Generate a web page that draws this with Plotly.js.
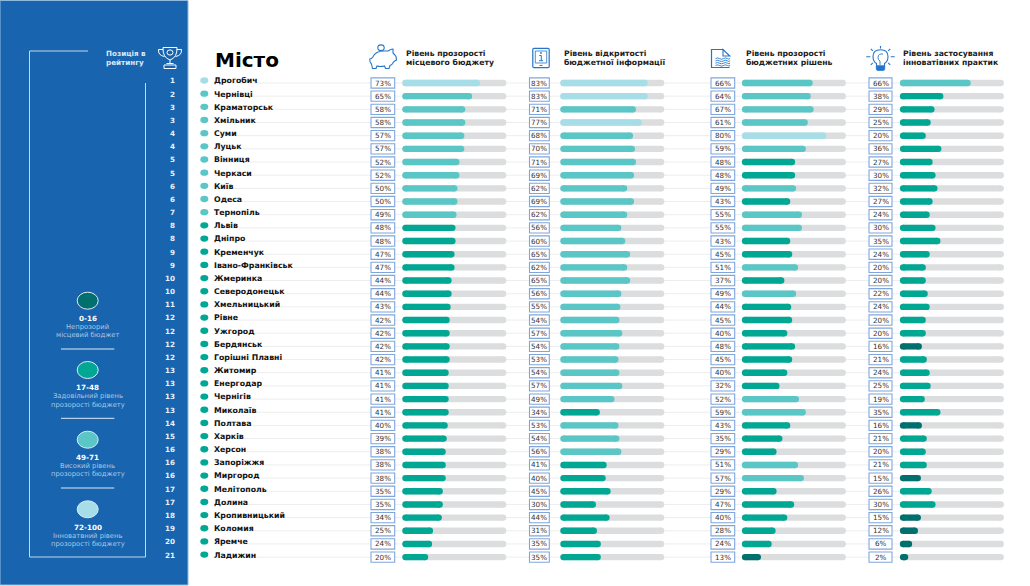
<!DOCTYPE html>
<html><head><meta charset="utf-8">
<script src="https://cdn.plot.ly/plotly-3.0.1.min.js"></script>
<style>html,body{margin:0;padding:0;background:#fff}#c{width:1030px;height:586px}</style>
</head><body><div id="c"></div>
<script>
const cities=["Дрогобич","Чернівці","Краматорськ","Хмільник","Суми","Луцьк","Вінниця","Черкаси","Київ","Одеса","Тернопіль","Львів","Дніпро","Кременчук","Івано-Франківськ","Жмеринка","Северодонецьк","Хмельницький","Рівне","Ужгород","Бердянськ","Горішні Плавні","Житомир","Енергодар","Чернігів","Миколаїв","Полтава","Харків","Херсон","Запоріжжя","Миргород","Мелітополь","Долина","Кропивницький","Коломия","Яремче","Ладижин"];
const ranks=[1,2,3,3,4,4,5,5,6,6,7,8,8,9,9,10,10,11,12,12,12,12,13,13,13,13,14,15,16,16,16,17,17,18,19,20,21];
const budget=[73,65,58,58,57,57,52,52,50,50,49,48,48,47,47,44,44,43,42,42,42,42,41,41,41,41,40,39,38,38,38,35,35,34,25,24,20];
const openness=[83,83,71,77,68,70,71,69,62,69,62,56,60,65,62,65,56,55,54,57,54,53,54,57,49,34,53,54,56,41,40,45,30,44,31,35,35];
const decisions=[66,64,67,61,80,59,48,48,49,43,55,55,43,45,51,37,49,44,45,40,48,45,40,32,52,59,43,35,29,51,57,29,47,40,28,24,13];
const innovation=[66,38,29,25,20,36,27,30,32,27,24,30,35,24,20,20,22,24,20,20,16,21,24,25,19,35,16,21,20,21,15,26,30,15,12,6,2];
const bandColors=["#00706e","#00a894","#5ac6c6","#a6dde6"];
const bandLimits=[16,48,71,100];
const legendRanges=["0-16","17-48","49-71","72-100"];
const legendLine1=["Непрозорий","Задовільний рівень","Високий рівень","Інноватвний рівень"];
const legendLine2=["місцевий бюджет","прозорості бюджету","прозорості бюджету","прозорості бюджету"];
const headerLine1=["Рівень прозорості","Рівень відкритості","Рівень прозорості","Рівень застосування"];
const headerLine2=["місцевого бюджету","бюджетної інформації","бюджетних рішень","інноватівних практик"];

const W=1030,H=586,rowH=13.17,firstY=83;
const BLUE="#1864ae",ICON="#2475c9",FRAME="#c5d8ec",SOFT="#a9c8e6",DARK="#1c1c1c",SANS="DejaVu Sans";
const px=x=>x/W, py=y=>1-y/H;
const band=v=>bandLimits.findIndex(l=>v<=l);
const columns=[
 {vals:budget,  x0:405.5,box:[371,394.7],head:406,  axis:"x"},
 {vals:openness,x0:563.5,box:[529.5,549.3],head:563.7,axis:"x2"},
 {vals:decisions,x0:745.1,box:[711,734.7],head:745.7,axis:"x3"},
 {vals:innovation,x0:903.1,box:[869,892],head:903,axis:"x4"}];
const span=97.6;

const traces=[];
const seg=(rows,ends)=>{const x=[],y=[];rows.forEach((r,k)=>{x.push(0,ends[k],null);y.push(r,r,null);});return{x,y};};
columns.forEach(c=>{
 const yaxis="y";
 const tr=seg(cities.map((_,i)=>i),cities.map(()=>100));
 traces.push({type:"scatter",mode:"lines+markers",x:tr.x,y:tr.y,xaxis:c.axis,yaxis,cliponaxis:false,
   line:{color:"#dcddde",width:6.4},marker:{color:"#dcddde",size:6.4,line:{width:0}},hoverinfo:"skip",showlegend:false});
 bandColors.forEach((col,b)=>{
  const rows=[];c.vals.forEach((v,i)=>{if(band(v)===b)rows.push(i);});
  if(!rows.length)return;
  const s=seg(rows,rows.map(i=>c.vals[i]));
  traces.push({type:"scatter",mode:"lines+markers",x:s.x,y:s.y,xaxis:c.axis,yaxis,cliponaxis:false,
   line:{color:col,width:6.4},marker:{color:col,size:6.4,line:{width:0}},hoverinfo:"skip",showlegend:false});
 });
});

const shapes=[],ann=[];
const rect=(x0,y0,x1,y1,fill,line)=>shapes.push({type:"rect",xref:"paper",yref:"paper",x0:px(x0),x1:px(x1),y0:py(y0),y1:py(y1),fillcolor:fill,line:line||{width:0},layer:"below"});
const seg2=(x0,y0,x1,y1,color,w)=>shapes.push({type:"line",xref:"paper",yref:"paper",x0:px(x0),x1:px(x1),y0:py(y0),y1:py(y1),line:{color,width:w||1},layer:"below"});
const ell=(cx,cy,rx,ry,fill,line)=>shapes.push({type:"circle",xref:"paper",yref:"paper",x0:px(cx-rx),x1:px(cx+rx),y0:py(cy-ry),y1:py(cy+ry),fillcolor:fill||"rgba(0,0,0,0)",line:line||{width:0}});
const path=(d,color,w,fill)=>shapes.push({type:"path",xref:"paper",yref:"paper",
  path:d.replace(/(-?[\d.]+) (-?[\d.]+)/g,(m,a,b)=>px(+a).toFixed(5)+","+py(+b).toFixed(5)),
  line:{color,width:w},fillcolor:fill||"rgba(0,0,0,0)"});
const text=(x,y,t,size,color,bold,anchor)=>ann.push({xref:"paper",yref:"paper",x:px(x),y:py(y),text:bold?"<b>"+t+"</b>":t,showarrow:false,
  xanchor:anchor||"left",yanchor:"middle",font:{family:SANS,size,color},borderpad:0,borderwidth:0});
const rowText=(x,i,off,t,size,color,bold,anchor)=>ann.push({xref:"paper",yref:"y",x:px(x),y:i+off,text:bold?"<b>"+t+"</b>":t,showarrow:false,
  xanchor:anchor||"left",yanchor:"middle",font:{family:SANS,size,color},borderpad:0,borderwidth:0});

// sidebar
rect(0,0.5,188,585,BLUE,{color:"#8fb8df",width:1});
seg2(88,51,29.5,51,FRAME); seg2(29.5,51,29.5,557,FRAME); seg2(29.5,557,145.5,557,FRAME); seg2(145.5,557,145.5,83,FRAME);
text(106,53.5,"Позиція в",7.2,"#dce8f4",true); text(106,62.7,"рейтингу",7.2,"#dce8f4",true);

// trophy
path("M163 47.5 L177 47.5 Q177.5 57.5 170 60 Q162.5 57.5 163 47.5 Z","#fff",1);
path("M163 49.5 L158.5 49.5 Q158 55.5 164.5 56.5","#fff",1);
path("M177 49.5 L181.5 49.5 Q182 55.5 175.5 56.5","#fff",1);
ell(170,52.5,3,2.6,null,{color:"#fff",width:1});
path("M170 60 L170 63 M166.5 63.5 L173.5 63.5 M164 65 L176 65 L176 68.5 L164 68.5 Z","#fff",1);

// legend
const legendY=[300.7,370,439.7,509.3];
const rangeY=[318,387.7,457.3,527];
const sepY=[349,418.3,488];
legendRanges.forEach((r,i)=>{
 ell(87.7,legendY[i],10.5,8.5,bandColors[i],{color:"#dfeaf5",width:1});
 text(87.7,rangeY[i],r,7.2,"#fff",true,"center");
 text(87.7,rangeY[i]+8.6,legendLine1[i],6.8,SOFT,false,"center");
 text(87.7,rangeY[i]+17,legendLine2[i],6.8,SOFT,false,"center");
 if(i<3)seg2(61,sepY[i],114.3,sepY[i],"#dfeaf5");
});

// rows
cities.forEach((c,i)=>{
 shapes.push({type:"line",xref:"paper",yref:"y",x0:px(214),x1:px(1004),y0:i,y1:i,line:{color:"#ededed",width:1},layer:"below"});
 shapes.push({type:"circle",xref:"paper",yref:"y",x0:px(200.3),x1:px(208.3),y0:i-0.43,y1:i+0.05,fillcolor:bandColors[band(budget[i])],line:{width:0}});
 rowText(175,i,-0.16,String(ranks[i]),7.2,"#eaf1f8",true,"right");
 rowText(214.3,i,-0.16,c,7.8,"#111",true);
 columns.forEach(col=>{
  shapes.push({type:"rect",xref:"paper",yref:"y",x0:px(col.box[0]),x1:px(col.box[1]),y0:i-0.39,y1:i+0.39,fillcolor:"#fff",line:{color:"#7fa6dc",width:1.1},layer:"below"});
  rowText((col.box[0]+col.box[1])/2,i,0,col.vals[i]+"%",7.2,"#333",false,"center");
 });
});

// headers
text(215,60,"Місто",20,"#000",true);
columns.forEach((c,i)=>{
 text(c.head,53.5,headerLine1[i],7.7,DARK,true);
 text(c.head,62.7,headerLine2[i],7.7,DARK,true);
});

// piggy icon
path("M369.8 59 Q371.5 59 372.8 57 Q375.5 51 384 51 L388 51 Q391 49 393 49 L393 53 Q395 55 396 56.5 L396.5 60 L394 61.5 Q392 65 390 65.5 L389 68.5 L385.5 68.5 L384.5 66 Q380 67 377 66 L376 68.5 L372.5 68.5 L371.5 64 Q369.5 62 369.8 59 Z",ICON,1.1);
ell(381,47.7,3.2,2.8,"#fff",{color:ICON,width:1.1});
// tablet icon
path("M534 48.3 L548 48.3 Q549.2 48.3 549.2 49.5 L549.2 66.5 Q549.2 67.7 548 67.7 L534 67.7 Q532.8 67.7 532.8 66.5 L532.8 49.5 Q532.8 48.3 534 48.3 Z",ICON,1.2);
path("M535.3 51 L546.7 51 L546.7 63 L535.3 63 Z",ICON,0.8);
path("M539.3 55.5 L541.3 55.5 L541.3 60.5 M539 60.7 L543 60.7 M539.5 65.4 L542.5 65.4",ICON,1);
ell(541,53,0.9,0.9,ICON,{width:0});
// document icon
path("M723 49.5 L711.5 49.5 L711.5 67.5 L729.5 67.5",ICON,1.2);
path("M723 49.5 L729.8 56 L723 56 Z",ICON,1.1);
[58.6,60.9,63.2,65.5].forEach(y=>path(`M715.5 ${y} Q717.5 ${y-1.3} 719.5 ${y} Q721.5 ${y+1.3} 723.5 ${y} Q725.5 ${y-1.3} 727.5 ${y} Q728.8 ${y+1} 730 ${y}`,ICON,0.9));
// bulb icon
path("M876.5 66 L876.5 63.5 Q873 61.5 873 56.5 Q873 49.8 880.5 49.8 Q888 49.8 888 56.5 Q888 61.5 884.5 63.5 L884.5 66 Z",ICON,1.1);
path("M883 54 Q878 53.5 878 57.5 Q878 60 880 61 L880 65",ICON,0.9);
path("M876.3 66 L884.7 66 L884.7 69 Q884.7 70.4 883 70.4 L878 70.4 Q876.3 70.4 876.3 69 Z",ICON,0.8,ICON);
path("M880.5 46 L880.5 48.5 M866.3 56.8 L870.3 56.8 M890.7 56.8 L894.7 56.8 M870.8 48.8 L872.8 50.8 M890.2 48.8 L888.2 50.8 M870.8 64.8 L872.8 62.8 M890.2 64.8 L888.2 62.8",ICON,1.1);

const axisBase={visible:false,fixedrange:true,range:[0,100],anchor:"y"};
const layout={width:W,height:H,margin:{l:0,r:0,t:0,b:0,pad:0},paper_bgcolor:"#fff",plot_bgcolor:"rgba(0,0,0,0)",showlegend:false,hovermode:false,
 yaxis:{visible:false,fixedrange:true,domain:[0,1],range:[(H-firstY)/rowH,-firstY/rowH]},
 shapes,annotations:ann};
columns.forEach((c,i)=>{layout["xaxis"+(i?i+1:"")]=Object.assign({},axisBase,{domain:[px(c.x0),px(c.x0+span)]});});
Plotly.newPlot("c",traces,layout,{staticPlot:true,displayModeBar:false});
</script></body></html>
